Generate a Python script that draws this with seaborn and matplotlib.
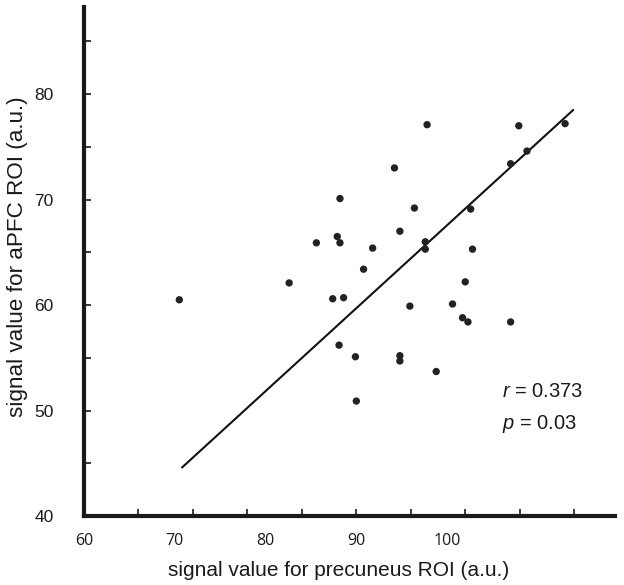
import matplotlib

matplotlib.use("Agg")
import matplotlib.pyplot as plt  # noqa: E402
import numpy as np  # noqa: E402
import pandas as pd  # noqa: E402
import seaborn as sns  # noqa: E402

# ---------------------------------------------------------------------------
# Data
# ---------------------------------------------------------------------------
precuneus = [
    70.5, 82.6, 85.6, 87.9, 88.2, 88.2, 90.8, 91.8, 87.4, 88.6, 95.9, 100.6,
    88.1, 89.9, 94.8, 94.8, 98.8, 90.0, 97.8, 107.9, 113.0, 108.8, 107.0,
    96.4, 102.6, 97.6, 97.6, 102.8, 102.0, 101.7, 102.3, 107.0, 94.8, 94.2,
]
apfc = [
    60.5, 62.1, 65.9, 66.5, 65.9, 70.1, 63.4, 65.4, 60.6, 60.7, 59.9, 60.1,
    56.2, 55.1, 55.2, 54.7, 53.7, 50.9, 77.1, 77.0, 77.2, 74.6, 73.4,
    69.2, 69.1, 66.0, 65.3, 65.3, 62.2, 58.8, 58.4, 58.4, 67.0, 73.0,
]
# fitted trend line end points as printed
trend_x = [70.8, 113.9]
trend_y = [44.6, 78.5]

x_tick_labels = [60, 70, 80, 90, 100]
y_tick_labels = [40, 50, 60, 70, 80]

r_text = "$\\mathit{r}$ = 0.373"
p_text = "$\\mathit{p}$ = 0.03"

df = pd.DataFrame({"precuneus": precuneus, "apfc": apfc})
trend = pd.DataFrame({"x": trend_x, "y": trend_y})

sns.set_style("ticks")
plt.rcParams["font.family"] = ["Liberation Sans", "DejaVu Sans"]
plt.rcParams["mathtext.fontset"] = "custom"
plt.rcParams["mathtext.rm"] = "Liberation Sans"
plt.rcParams["mathtext.it"] = "Liberation Sans:italic"

fig = plt.figure(figsize=(6.24, 5.85), dpi=100)
ax = fig.add_axes([0.1346, 0.1179, 0.851, 0.870])

sns.lineplot(data=trend, x="x", y="y", color="#111111", linewidth=1.5, ax=ax)
sns.scatterplot(
    data=df, x="precuneus", y="apfc", color="#222222", s=28,
    edgecolor="none", ax=ax, zorder=3,
)

ax.set_xlim(60, 118.5)
ax.set_ylim(40, 88.25)

for side in ("top", "right"):
    ax.spines[side].set_visible(False)
for side in ("left", "bottom"):
    ax.spines[side].set_linewidth(3)
    ax.spines[side].set_color("#1a1a1a")

# x: tick marks every 6 units, labels every 10 (as in the original)
ax.xaxis.remove_overlapping_locs = False
ax.set_xticks(np.arange(60, 115, 6))
ax.set_xticklabels([])
ax.set_xticks(x_tick_labels, minor=True)
ax.set_xticklabels([str(v) for v in x_tick_labels], minor=True,
                   family=["Open Sans", "DejaVu Sans"], fontsize=11.5)
ax.tick_params(axis="x", which="major", direction="in", length=5, width=1.2,
               color="#1a1a1a")
ax.tick_params(axis="x", which="minor", length=0, pad=12, labelcolor="#1a1a1a")

# y: tick marks every 5, labels every 10
yt = np.arange(40, 90, 5)
ax.set_yticks(yt)
ax.set_yticklabels([str(v) if v in y_tick_labels else "" for v in yt],
                   fontsize=12.5)
ax.tick_params(axis="y", direction="in", length=5, width=1.2, pad=22,
               color="#1a1a1a", labelcolor="#1a1a1a")

ax.set_xlabel("signal value for precuneus ROI (a.u.)", fontsize=15,
              color="#1a1a1a")
ax.set_ylabel("signal value for aPFC ROI (a.u.)", fontsize=16.2,
              color="#1a1a1a")
ax.xaxis.set_label_coords(0.48, -0.089)
ax.yaxis.set_label_coords(-0.105, 0.509)

ax.text(0.787, 0.245, r_text, transform=ax.transAxes, fontsize=14.5,
        va="center", ha="left", color="#1a1a1a")
ax.text(0.787, 0.180, p_text, transform=ax.transAxes, fontsize=14.5,
        va="center", ha="left", color="#1a1a1a")

fig.savefig("out.png", dpi=100)
